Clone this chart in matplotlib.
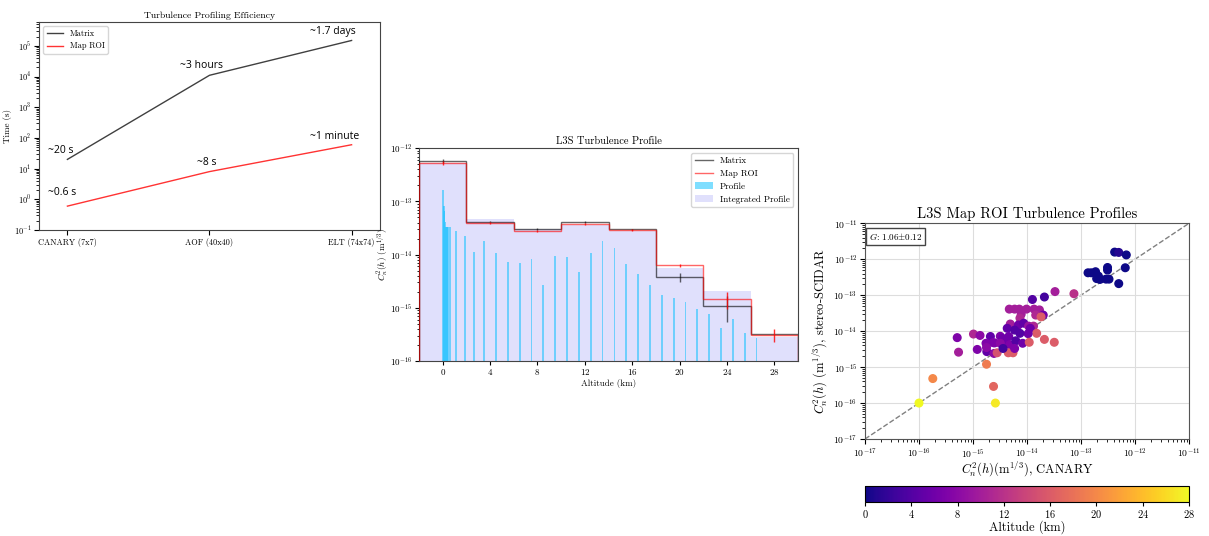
import numpy as np
import matplotlib
matplotlib.use("Agg")
import matplotlib.pyplot as plt

plt.rcParams['font.family'] = ['cmr10', 'DejaVu Serif']
plt.rcParams['mathtext.fontset'] = 'cm'
plt.rcParams['axes.formatter.use_mathtext'] = True
plt.rcParams['axes.unicode_minus'] = False

# ---------------- Panel 1 data ----------------
systems = ["CANARY (7x7)", "AOF (40x40)", "ELT (74x74)"]
time_matrix = [20, 1.1e4, 1.5e5]
time_roi = [0.6, 8, 60]

# ---------------- Panel 2 data ----------------
bin_edges = [-2, 2, 6, 10, 14, 18, 22, 26, 30]
bin_centres = [0, 4, 8, 12, 16, 20, 24, 28]
matrix_cn2 = [5.8e-13, 4.2e-14, 3.05e-14, 4.1e-14, 3.0e-14, 3.8e-15, 1.09e-15, 3.2e-16]
matrix_err = [4e-14, 1.5e-15, 1.0e-15, 1.5e-15, 1.0e-15, 8e-16, 5.5e-16, 0]
roi_cn2 = [5.3e-13, 3.9e-14, 2.8e-14, 3.75e-14, 2.9e-14, 6.3e-15, 1.47e-15, 3.15e-16]
roi_err = [4e-14, 1.5e-15, 1.0e-15, 1.5e-15, 1.5e-15, 4e-16, 5e-16, 8.5e-17]
integrated_cn2 = [5.4e-13, 4.6e-14, 3.1e-14, 3.6e-14, 2.8e-14, 5.7e-15, 2.1e-15, 2.8e-16]
profile_alt = [0, 0.08, 0.15, 0.23, 0.31, 0.39, 0.47, 0.61, 1.13, 1.89, 2.65, 3.52,
               4.5, 5.5, 6.5, 7.5, 8.5, 9.5, 10.5, 11.5, 12.5, 13.5, 14.5, 15.5,
               16.5, 17.5, 18.5, 19.5, 20.5, 21.5, 22.5, 23.5, 24.5, 25.5, 26.5]
profile_cn2 = [1.64e-13, 8.2e-14, 6.5e-14, 4.1e-14, 3.3e-14, 3.3e-14, 3.3e-14, 3.3e-14,
               2.75e-14, 2.24e-14, 1.12e-14, 1.78e-14,
               1.07e-14, 7.2e-15, 6.9e-15, 8.3e-15, 2.74e-15, 9.6e-15, 9.1e-15, 4.8e-15,
               1.08e-14, 1.78e-14, 1.32e-14, 6.8e-15, 4.3e-15, 2.74e-15, 1.73e-15,
               1.51e-15, 1.29e-15, 9.5e-16, 7.6e-16, 4.2e-16, 6.2e-16, 3.4e-16, 2.75e-16]

# ---------------- Panel 3 data ----------------
canary_cn2 = [4.2e-13, 5.0e-13, 6.9e-13, 6.6e-13, 5.0e-13, 1.35e-13, 1.55e-13, 1.86e-13,
              2.1e-13, 1.95e-13, 2.25e-13, 3.1e-13, 3.1e-13, 2.9e-13, 3.3e-13,
              1.26e-14, 2.1e-14, 3.3e-14, 7.4e-14,
              4.7e-15, 5.9e-15, 7.2e-15, 9.8e-15, 1.35e-14, 1.7e-14, 1.45e-14, 2.0e-14,
              7.8e-15, 7.4e-15, 1.82e-14,
              4.9e-15, 6.9e-15, 8.7e-15, 1.07e-14, 4.3e-15, 5.9e-15, 1.32e-14, 1.15e-14,
              1.51e-14, 1.05e-14, 7.4e-15,
              1.02e-15, 1.35e-15, 2.1e-15, 3.2e-15, 3.5e-15, 4.6e-15, 2.5e-15, 4.1e-15,
              1.74e-15, 2.35e-15, 3.2e-15, 4.8e-15, 6.2e-15, 8.3e-15, 1.1e-14, 2.1e-14,
              3.2e-14, 1.2e-15, 1.8e-15, 2.45e-15, 2.8e-15, 4.5e-15, 5.5e-15, 1.78e-15,
              5.1e-16, 5.4e-16, 3.6e-15, 5.9e-15,
              1.78e-15, 1.8e-16, 1.0e-16, 2.6e-15, 2.4e-15]
scidar_cn2 = [1.58e-12, 1.55e-12, 1.32e-12, 5.8e-13, 2.1e-13, 4.2e-13, 4.2e-13, 4.5e-13,
              3.4e-13, 2.9e-13, 2.75e-13, 5.9e-13, 5.0e-13, 2.8e-13, 2.8e-13,
              7.6e-14, 8.9e-14, 1.26e-13, 1.1e-13,
              4.1e-14, 4.1e-14, 4.1e-14, 4.1e-14, 4.1e-14, 3.9e-14, 2.8e-14, 2.8e-14,
              2.95e-14, 2.3e-14, 2.5e-14,
              1.58e-14, 1.48e-14, 1.66e-14, 1.38e-14, 1.2e-14, 1.07e-14, 1.38e-14, 1.2e-14,
              8.7e-15, 8.5e-15, 8.7e-15,
              8.3e-15, 7.6e-15, 7.1e-15, 7.2e-15, 6.3e-15, 7.1e-15, 4.7e-15, 5.1e-15,
              4.6e-15, 4.8e-15, 4.6e-15, 4.2e-15, 5.4e-15, 4.6e-15, 4.9e-15, 5.9e-15,
              4.9e-15, 3.1e-15, 2.7e-15, 2.4e-15, 2.5e-15, 2.5e-15, 2.5e-15, 3.5e-15,
              6.6e-15, 2.6e-15, 3.3e-15, 3.3e-15,
              1.2e-15, 4.8e-16, 1.0e-16, 1.0e-16, 2.9e-16]
altitude_km = [0, 1, 0, 0, 0, 0, 0, 0,
               0, 0, 0, 0, 0, 0, 0,
               4, 3, 10, 12,
               10, 10, 10, 10, 10, 10, 11, 6,
               10, 11, 16,
               10, 6, 5, 9, 5, 4, 11, 6,
               16, 6, 4,
               11, 8, 5, 7, 6, 6, 7, 6,
               7, 7, 8, 7, 4, 6, 16, 16,
               16, 7, 5, 8, 15, 16, 16, 8,
               7, 10, 3, 7,
               19, 20, 28, 27, 17]

W, H = 1209, 536
fig = plt.figure(figsize=(W / 100, H / 100), dpi=100)

def px_axes(x0, y0, x1, y1):
    return fig.add_axes([x0 / W, 1 - y1 / H, (x1 - x0) / W, (y1 - y0) / H])

# ================= Panel 1 =================
ax1 = px_axes(39, 22, 380, 230)
xs = np.arange(len(systems))
ax1.plot(xs, time_matrix, color='black', lw=1, alpha=0.75, label='Matrix')
ax1.plot(xs, time_roi, color='red', lw=1, alpha=0.8, label='Map ROI')
ax1.set_yscale('log')
ax1.set_ylim(1e-1, 6e5)
ax1.set_xlim(-0.2, 2.2)
ax1.set_xticks(xs)
ax1.set_xticklabels(systems, fontsize=6)
ax1.tick_params(axis='y', labelsize=6, pad=2)
ax1.tick_params(axis='x', pad=2)
ax1.set_ylabel('Time (s)', fontsize=6.5, labelpad=1)
ax1.set_title('Turbulence Profiling Efficiency', fontsize=7, pad=3)
ax1.legend(loc='upper left', fontsize=6)
ann_kw = dict(fontsize=7.5, family=['Open Sans', 'DejaVu Sans'], va='center', ha='left')
ax1.text(-0.14, 39, '~20 s', **ann_kw)
ax1.text(-0.14, 1.66, '~0.6 s', **ann_kw)
ax1.text(0.79, 2.3e4, '~3 hours', **ann_kw)
ax1.text(0.915, 16, '~8 s', **ann_kw)
ax1.text(1.706, 2.9e5, '~1.7 days', **ann_kw)
ax1.text(1.706, 110, '~1 minute', **ann_kw)
for sp in ax1.spines.values():
    sp.set_color('#444444')

# ================= Panel 2 =================
ax2 = px_axes(419, 148.3, 798, 361)
ax2.set_yscale('log')
ax2.bar(bin_centres, integrated_cn2, width=4, color='#e0e0fc', label='Integrated Profile', zorder=1)
ax2.bar(profile_alt, profile_cn2, width=0.15, color='#00bfff', alpha=0.5, label='Profile', zorder=2)
ax2.stairs(matrix_cn2, bin_edges, color='black', lw=1, alpha=0.6, label='Matrix', zorder=3)
ax2.stairs(roi_cn2, bin_edges, color='red', lw=1, alpha=0.6, label='Map ROI', zorder=4)
ax2.errorbar(bin_centres, matrix_cn2, yerr=matrix_err, fmt='none', ecolor='black', alpha=0.6, lw=1, zorder=3)
ax2.errorbar(bin_centres, roi_cn2, yerr=roi_err, fmt='none', ecolor='red', alpha=0.8, lw=1, zorder=4)
ax2.set_xlim(-2, 30)
ax2.set_ylim(1e-16, 1e-12)
ax2.set_xticks(range(0, 29, 4))
ax2.tick_params(labelsize=6.5, pad=1.5, length=3)
ax2.tick_params(which='minor', length=1.5)
ax2.set_xlabel('Altitude (km)', fontsize=6.5, labelpad=1)
ax2.set_ylabel(r'$C_n^2(h)$ (m$^{1/3}$)', fontsize=6.5, labelpad=0.5)
ax2.set_title('L3S Turbulence Profile', fontsize=7.5, pad=3)
h, l = ax2.get_legend_handles_labels()
order = [l.index(n) for n in ['Matrix', 'Map ROI', 'Profile', 'Integrated Profile']]
ax2.legend([h[i] for i in order], [l[i] for i in order], loc='upper right', fontsize=6.5)
for sp in ax2.spines.values():
    sp.set_color('#444444')

# ================= Panel 3 =================
ax3 = px_axes(865, 223.3, 1189, 439)
ax3.set_xscale('log')
ax3.set_yscale('log')
ax3.grid(True, which='major', color='#dddddd', lw=0.8, zorder=0)
ax3.plot([1e-17, 1e-11], [1e-17, 1e-11], '--', color='grey', lw=1, zorder=1)
sc = ax3.scatter(canary_cn2, scidar_cn2, c=altitude_km, cmap='plasma', vmin=0, vmax=28,
                 s=30, zorder=3)
ax3.set_xlim(1e-17, 1e-11)
ax3.set_ylim(1e-17, 1e-11)
ax3.tick_params(labelsize=7, pad=2)
ax3.set_xlabel(r'$C_n^2(h)$(m$^{1/3}$), CANARY', fontsize=9, labelpad=0)
ax3.set_ylabel(r'$C_n^2(h)$ (m$^{1/3}$), stereo-SCIDAR', fontsize=9, labelpad=2)
ax3.set_title('L3S Map ROI Turbulence Profiles', fontsize=10.5, pad=4)
ax3.text(0.012, 0.965, r'$G$: 1.06$\pm$0.12', transform=ax3.transAxes, fontsize=6.5,
         va='top', ha='left',
         bbox=dict(boxstyle='square,pad=0.35', fc='white', ec='#444444', lw=1))
for sp in ax3.spines.values():
    sp.set_color('#555555')

cax = px_axes(865, 485.7, 1189, 501.7)
cb = fig.colorbar(sc, cax=cax, orientation='horizontal')
cb.set_ticks(range(0, 29, 4))
cb.ax.tick_params(labelsize=7.5, pad=1.5, length=3)
cb.set_label('Altitude (km)', fontsize=9, labelpad=0)

fig.savefig('out.png', dpi=100)
